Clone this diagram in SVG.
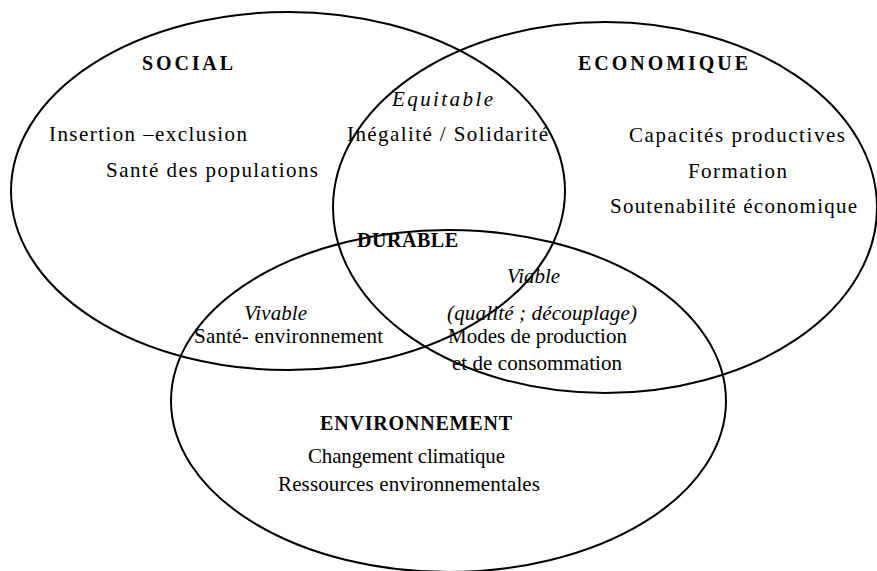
<svg xmlns="http://www.w3.org/2000/svg" width="877" height="571" viewBox="0 0 877 571">
<style>
.c{fill:none;stroke:#000;stroke-width:2}
text{font-family:"Liberation Serif","Times New Roman",serif;font-size:21px;fill:#000}
.h{font-weight:bold;font-size:20px}
.i{font-style:italic}
</style>
<rect width="877" height="571" fill="#fff"/>
<g id="connectors"></g>
<g id="social">
<ellipse class="c" cx="288" cy="191" rx="277" ry="179"/>
<text class="h" x="142" y="70" textLength="91" lengthAdjust="spacing">SOCIAL</text>
<text x="49" y="141" textLength="198" lengthAdjust="spacing">Insertion –exclusion</text>
<text x="106" y="177" textLength="212" lengthAdjust="spacing">Santé des populations</text>
</g>
<g id="economique">
<ellipse class="c" cx="605" cy="207.5" rx="272" ry="185.5"/>
<text class="h" x="578" y="70" textLength="170" lengthAdjust="spacing">ECONOMIQUE</text>
<text x="629" y="142" textLength="216" lengthAdjust="spacing">Capacités productives</text>
<text x="688" y="178" textLength="99" lengthAdjust="spacing">Formation</text>
<text x="610" y="213" textLength="247" lengthAdjust="spacing">Soutenabilité économique</text>
</g>
<g id="environnement">
<ellipse class="c" cx="448.5" cy="401" rx="277.5" ry="171"/>
<text class="h" x="320" y="430" textLength="192" lengthAdjust="spacing">ENVIRONNEMENT</text>
<text x="308" y="463" textLength="197" lengthAdjust="spacing">Changement climatique</text>
<text x="278" y="491" textLength="262" lengthAdjust="spacing">Ressources environnementales</text>
</g>
<g id="equitable">
<text class="i" x="392" y="106" textLength="101" lengthAdjust="spacing">Equitable</text>
<text x="347" y="141" textLength="201" lengthAdjust="spacing">Inégalité / Solidarité</text>
</g>
<g id="durable">
<text class="h" x="357" y="247" textLength="101" lengthAdjust="spacing">DURABLE</text>
</g>
<g id="viable">
<text class="i" x="507" y="283" textLength="53" lengthAdjust="spacing">Viable</text>
<text class="i" x="447" y="320" textLength="190" lengthAdjust="spacing">(qualité ; découplage)</text>
<text x="448" y="343" textLength="179" lengthAdjust="spacing">Modes de production</text>
<text x="452" y="370" textLength="170" lengthAdjust="spacing">et de consommation</text>
</g>
<g id="vivable">
<text class="i" x="244" y="320" textLength="63" lengthAdjust="spacing">Vivable</text>
<text x="194" y="343" textLength="189" lengthAdjust="spacing">Santé- environnement</text>
</g>
</svg>
